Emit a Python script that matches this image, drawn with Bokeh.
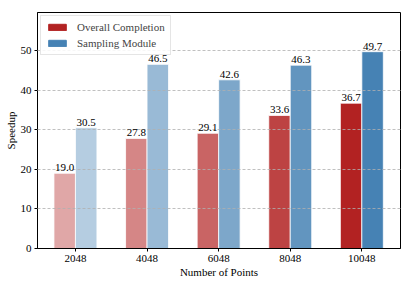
from bokeh.plotting import figure
from bokeh.models import Range1d, FixedTicker, Legend, LegendItem, ColumnDataSource
from bokeh.embed import file_html
from bokeh.resources import INLINE
from bokeh.core.properties import value

categories = ["2048", "4048", "6048", "8048", "10048"]
overall = [19.0, 27.8, 29.1, 33.6, 36.7]
sampling = [30.5, 46.5, 42.6, 46.3, 49.7]
alphas = [0.4, 0.55, 0.7, 0.85, 1.0]
yticks = [0, 10, 20, 30, 40, 50]

RED = "#b22222"
BLUE = "#4682b4"
FONT = "Liberation Serif"
W = 0.3

idx = list(range(len(categories)))
src_r = ColumnDataSource(dict(x=[i - W / 2 for i in idx], top=overall, a=alphas,
                              lab=[f"{v:.1f}" for v in overall]))
src_b = ColumnDataSource(dict(x=[i + W / 2 for i in idx], top=sampling, a=alphas,
                              lab=[f"{v:.1f}" for v in sampling]))

p = figure(width=415, height=282, output_backend="svg", toolbar_location=None,
           x_range=Range1d(-0.53, 4.54), y_range=Range1d(0, 59.6),
           min_border_left=37, min_border_right=15, min_border_top=12, min_border_bottom=34)

p.vbar(x="x", top="top", width=W, source=src_r, fill_color=RED, fill_alpha="a",
       line_color="white", line_width=0.8)
p.vbar(x="x", top="top", width=W, source=src_b, fill_color=BLUE, fill_alpha="a",
       line_color="white", line_width=0.8)

for s in (src_r, src_b):
    p.text(x="x", y="top", text="lab", source=s, text_align="center", text_baseline="bottom",
           y_offset=-2, text_font=value(FONT), text_font_size="11px", text_color="black",
           level="overlay")

# legend proxies (outside the visible range)
lr = p.vbar(x=[-10], top=[1], width=W, fill_color=RED, line_color=RED)
lb = p.vbar(x=[-10], top=[1], width=W, fill_color=BLUE, line_color=BLUE)
leg = Legend(items=[LegendItem(label="Overall Completion", renderers=[lr]),
                    LegendItem(label="Sampling Module", renderers=[lb])],
             location="top_left", margin=3, padding=5, spacing=4,
             glyph_width=22, glyph_height=8, label_standoff=9,
             label_text_font=FONT, label_text_font_size="11px",
             border_line_color="#cccccc", border_line_width=1,
             background_fill_alpha=0.85, label_height=12)
p.add_layout(leg)

p.xgrid.visible = False
p.ygrid.ticker = FixedTicker(ticks=yticks)
p.ygrid.grid_line_color = "#b0b0b0"
p.ygrid.grid_line_dash = "3 2"
p.ygrid.grid_line_width = 0.8
p.ygrid.level = "guide"

p.xaxis.ticker = FixedTicker(ticks=idx)
p.xaxis.major_label_overrides = {i: c for i, c in zip(idx, categories)}
p.yaxis.ticker = FixedTicker(ticks=yticks)
for ax in (p.xaxis, p.yaxis):
    ax.minor_tick_line_color = None
    ax.major_tick_in = 0
    ax.major_tick_out = 3
    ax.axis_line_color = "black"
    ax.major_tick_line_color = "black"
    ax.major_label_text_font = FONT
    ax.major_label_text_font_size = "11px"
    ax.major_label_text_color = "black"
    ax.axis_label_text_font = FONT
    ax.axis_label_text_font_size = "11px"
    ax.axis_label_text_font_style = "normal"
    ax.axis_label_text_color = "black"
    ax.major_label_standoff = 3
    ax.axis_label_standoff = 1

p.xaxis.axis_label = "Number of Points"
p.yaxis.axis_label = "Speedup"

p.outline_line_color = "black"
p.outline_line_width = 1
p.background_fill_color = "white"
p.border_fill_color = "white"

open("out.html", "w").write(file_html(p, INLINE))
